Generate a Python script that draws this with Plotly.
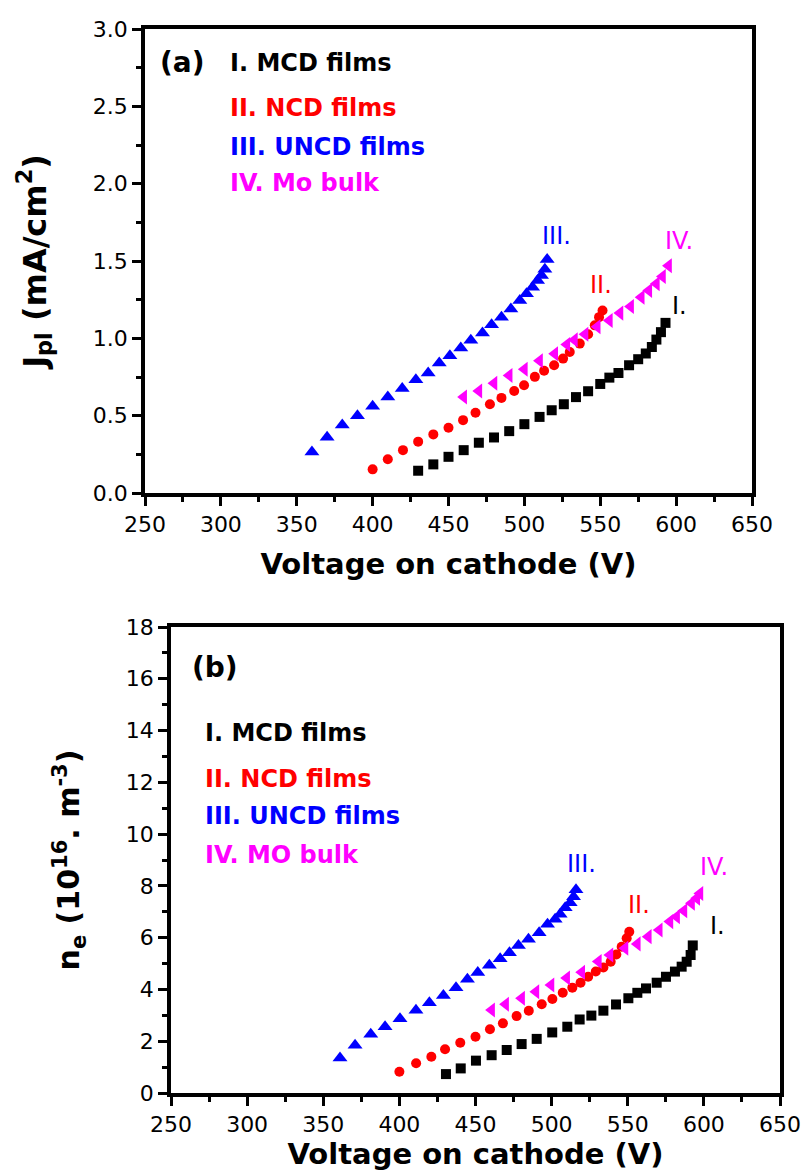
import plotly.graph_objects as go

# ---------------- Panel (a): J_pl ----------------
mcd_v_a = [430, 440, 450, 460, 470, 480, 490, 500, 510, 518, 526, 534, 542, 550, 556, 562, 569, 575, 580, 584, 587, 590, 593]
mcd_j_a = [0.144, 0.185, 0.234, 0.277, 0.325, 0.359, 0.40, 0.445, 0.492, 0.535, 0.574, 0.62, 0.658, 0.705, 0.746, 0.776, 0.826, 0.865, 0.902, 0.944, 0.992, 1.04, 1.10]

ncd_v_a = [400, 410, 420, 430, 440, 450, 459.6, 467.8, 477.3, 484.9, 493.3, 499.8, 506.9, 513, 519.6, 525.5, 529.9, 536.5, 542, 546.4, 549.2, 551.5]
ncd_j_a = [0.153, 0.218, 0.277, 0.332, 0.379, 0.422, 0.471, 0.519, 0.574, 0.615, 0.66, 0.697, 0.751, 0.79, 0.826, 0.869, 0.912, 0.966, 1.026, 1.084, 1.137, 1.18]

uncd_v_a = [360, 370, 380, 390, 400, 410, 419.5, 428.5, 436.6, 443.9, 450.9, 458.1, 464.7, 472.4, 478.4, 484.9, 491.1, 497, 501.4, 505.4, 508.7, 511.3, 513.5, 515]
uncd_j_a = [0.265, 0.36, 0.44, 0.50, 0.561, 0.621, 0.675, 0.733, 0.776, 0.84, 0.888, 0.937, 0.987, 1.034, 1.088, 1.137, 1.189, 1.245, 1.288, 1.331, 1.374, 1.406, 1.447, 1.51]

mo_v_a = [460, 470, 480, 490, 500, 510, 520, 528, 533, 540, 548, 556, 563, 570, 577, 582, 587, 591, 595]
mo_j_a = [0.62, 0.66, 0.71, 0.76, 0.80, 0.855, 0.90, 0.96, 0.99, 1.026, 1.075, 1.116, 1.163, 1.206, 1.266, 1.31, 1.353, 1.40, 1.47]

# ---------------- Panel (b): n_e ----------------
mcd_v_b = [430.6, 440.3, 450.3, 460.6, 470.5, 480.3, 490.2, 500.4, 510.3, 518.4, 526.1, 534, 542.3, 550.4, 556.3, 562, 569, 575.1, 581, 585.4, 588.7, 591.3, 592.7]
mcd_n_b = [0.73, 0.95, 1.25, 1.46, 1.66, 1.89, 2.09, 2.34, 2.56, 2.84, 2.99, 3.18, 3.42, 3.66, 3.87, 4.04, 4.26, 4.49, 4.69, 4.88, 5.07, 5.33, 5.70]

ncd_v_b = [400, 411, 421, 430, 440, 450, 459.5, 468, 477, 485, 493.5, 500.5, 507.3, 513.6, 519, 524, 529, 534, 538.8, 542.5, 546, 549.3, 551]
ncd_n_b = [0.82, 1.15, 1.40, 1.69, 1.94, 2.17, 2.46, 2.69, 2.97, 3.18, 3.43, 3.63, 3.87, 4.07, 4.26, 4.49, 4.69, 4.85, 5.07, 5.35, 5.65, 5.98, 6.23]

uncd_v_b = [361, 370.9, 381.2, 390.6, 400.4, 410.9, 419.7, 428.9, 437.2, 444.7, 451.5, 459.1, 466.2, 472.3, 478.2, 484.8, 491.8, 497.3, 502.3, 505.6, 508.9, 512.2, 514.4, 516]
uncd_n_b = [1.35, 1.84, 2.27, 2.56, 2.87, 3.2, 3.49, 3.77, 4.07, 4.39, 4.65, 4.93, 5.19, 5.42, 5.7, 5.94, 6.19, 6.52, 6.71, 6.9, 7.16, 7.35, 7.58, 7.85]

mo_v_b = [460.6, 469.8, 480.3, 489.7, 499.6, 509.9, 519.8, 530.7, 538.3, 548.2, 556.3, 563.5, 570.7, 577.7, 582.1, 586.9, 591.9, 595.3, 597.4]
mo_n_b = [3.21, 3.43, 3.66, 3.91, 4.17, 4.44, 4.66, 5.08, 5.33, 5.59, 5.76, 6.04, 6.30, 6.62, 6.81, 7.04, 7.33, 7.52, 7.71]

x_ticks = [250, 300, 350, 400, 450, 500, 550, 600, 650]
ya_ticks = [0.0, 0.5, 1.0, 1.5, 2.0, 2.5, 3.0]
yb_ticks = [0, 2, 4, 6, 8, 10, 12, 14, 16, 18]

BLACK, RED, BLUE, MAG = "#000000", "#ff0000", "#0000ff", "#ff00ff"
FONT = "DejaVu Sans"

fig = go.Figure()

def add_series(x, y, color, symbol, size, xa, ya):
    fig.add_trace(go.Scatter(x=x, y=y, mode="markers", xaxis=xa, yaxis=ya,
                             marker=dict(color=color, symbol=symbol, size=size, line=dict(width=0)),
                             showlegend=False))

add_series(mcd_v_a, mcd_j_a, BLACK, "square", 10, "x", "y")
add_series(ncd_v_a, ncd_j_a, RED, "circle", 10, "x", "y")
add_series(uncd_v_a, uncd_j_a, BLUE, "triangle-up", 13, "x", "y")
add_series(mo_v_a, mo_j_a, MAG, "triangle-left", 13, "x", "y")

add_series(mcd_v_b, mcd_n_b, BLACK, "square", 10, "x2", "y2")
add_series(ncd_v_b, ncd_n_b, RED, "circle", 10, "x2", "y2")
add_series(uncd_v_b, uncd_n_b, BLUE, "triangle-up", 13, "x2", "y2")
add_series(mo_v_b, mo_n_b, MAG, "triangle-left", 13, "x2", "y2")

axis_common = dict(showline=True, linewidth=3.5, linecolor="black", mirror=True,
                   ticks="outside", ticklen=9, tickwidth=3, tickcolor="black",
                   showgrid=False, zeroline=False, automargin=False,
                   tickfont=dict(family=FONT, size=22, color="black"))

def minor(d, t0):
    return dict(ticks="outside", ticklen=5, tickwidth=3, tickcolor="black", dtick=d, tick0=t0, showgrid=False)

fig.update_layout(
    width=807, height=1176,
    margin=dict(l=0, r=0, t=0, b=0, autoexpand=False),
    plot_bgcolor="white", paper_bgcolor="white",
    xaxis=dict(domain=[145/807, 752/807], range=[250, 650], anchor="y",
               tickvals=x_ticks, ticktext=[str(v) for v in x_ticks],
               minor=minor(25, 250),
               title=dict(text="<b>Voltage on cathode (V)</b>",
                          font=dict(family=FONT, size=29, color="black"), standoff=19),
               **axis_common),
    yaxis=dict(domain=[(1176-493)/1176, (1176-29)/1176], range=[0, 3.0], anchor="x",
               tickvals=ya_ticks, ticktext=[f"{v:.1f}" for v in ya_ticks],
               minor=minor(0.25, 0),
               title=dict(text="<b>J<sub>pl</sub> (mA/cm<sup>2</sup>)</b>",
                          font=dict(family=FONT, size=32, color="black"), standoff=38),
               **axis_common),
    xaxis2=dict(domain=[171/807, 780/807], range=[250, 650], anchor="y2",
                tickvals=x_ticks, ticktext=[str(v) for v in x_ticks],
                minor=minor(25, 250),
                title=dict(text="<b>Voltage on cathode (V)</b>",
                           font=dict(family=FONT, size=29, color="black"), standoff=0),
                **axis_common),
    yaxis2=dict(domain=[(1176-1093)/1176, (1176-627)/1176], range=[0, 18], anchor="x2",
                tickvals=yb_ticks, ticktext=[str(v) for v in yb_ticks],
                minor=minor(1, 0),
                title=dict(text="<b>n<sub>e</sub> (10<sup>16</sup>. m<sup>-3</sup>)</b>",
                           font=dict(family=FONT, size=30, color="black"), standoff=38),
                **axis_common),
)

def P(px, py):
    return px/807, 1 - py/1176

labels = [
    # px, py(center), text, color, size, bold
    (158, 62, "(a)", BLACK, 28, True),
    (228, 63, "I. MCD films", BLACK, 24, True),
    (228, 108, "II. NCD films", RED, 24, True),
    (228, 147, "III. UNCD films", BLUE, 24, True),
    (228, 183, "IV. Mo bulk", MAG, 24, True),
    (540, 236, "III.", BLUE, 24, False),
    (588, 285, "II.", RED, 24, False),
    (663, 241, "IV.", MAG, 24, False),
    (670, 306, "I.", BLACK, 24, False),
    (190, 667, "(b)", BLACK, 28, True),
    (203, 733, "I. MCD films", BLACK, 24, True),
    (203, 779, "II. NCD films", RED, 24, True),
    (203, 816, "III. UNCD films", BLUE, 24, True),
    (203, 855, "IV. MO bulk", MAG, 24, True),
    (565, 864, "III.", BLUE, 24, False),
    (626, 905, "II.", RED, 24, False),
    (698, 867, "IV.", MAG, 24, False),
    (708, 926, "I.", BLACK, 24, False),
]
for px, py, s, c, sz, b in labels:
    x, y = P(px, py)
    fig.add_annotation(x=x, y=y, xref="paper", yref="paper",
                       text=f"<b>{s}</b>" if b else s, showarrow=False,
                       xanchor="left", yanchor="middle",
                       font=dict(family=FONT, size=sz, color=c))

fig.write_html("out.html")
